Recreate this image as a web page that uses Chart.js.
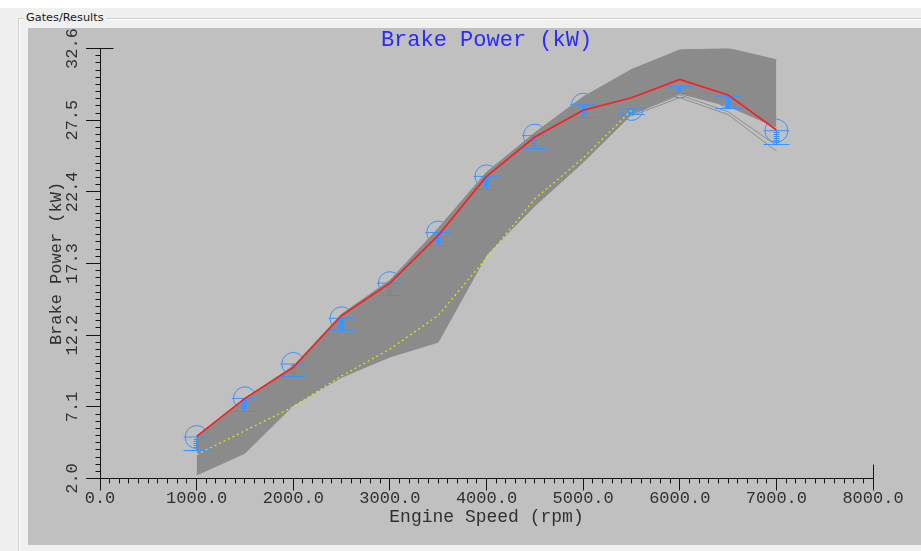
<!DOCTYPE html>
<html><head><meta charset="utf-8">
<script src="https://cdn.jsdelivr.net/npm/chart.js@4.4.1/dist/chart.umd.min.js"></script>
<style>
html,body{margin:0;padding:0;}
body{width:921px;height:551px;position:relative;overflow:hidden;background:#f0f0f0;}
#topstrip{position:absolute;left:0;top:0;width:921px;height:8px;background:#ffffff;}
#frame{position:absolute;left:18px;top:18px;width:920px;height:560px;border-left:1px solid #d0d0d0;border-top:1px solid #d0d0d0;box-shadow:inset 1px 1px 0 #ffffff;}
#cap{position:absolute;left:24px;top:11px;padding:0 2px;background:#f0f0f0;font:11.3px "DejaVu Sans",sans-serif;color:#1a1a1a;line-height:14px;}
#panel{position:absolute;left:28px;top:28px;width:893px;height:517px;background:#c0c0c0;}
#c{position:absolute;left:0;top:0;}
</style></head>
<body>
<div id="topstrip"></div><div id="frame"></div><div id="cap">Gates/Results</div><div id="panel"></div>
<canvas id="c" width="921" height="551"></canvas>
<script>
// ---- data ----
const speeds      = [1000,1500,2000,2500,3000,3500,4000,4500,5000,5500,6000,6500,7000];
const bestRun     = [5.0, 7.7, 9.9, 13.6, 15.9, 19.3, 23.5, 26.3, 28.2, 29.1, 30.4, 29.3, 26.8];
const yellowRun   = [3.7, 5.4, 7.1, 9.3, 11.2, 13.6, 17.7, 21.9, 24.8, 28.2, 29.5, 28.5, 26.3];
const bandTop     = [5.0, 7.7, 10.0, 13.7, 16.1, 19.8, 23.8, 26.6, 29.15, 31.1, 32.5, 32.6, 31.8];
const bandBottom  = [2.25, 3.8, 7.2, 9.2, 10.65, 11.7, 17.9, 21.4, 24.5, 27.9, 29.4, 28.5, 27.0];
const lowRunA     = [null, null, null, null, null, null, null, null, null, 27.9, 29.3, 28.1, 25.7];
const lowRunB     = [null, null, null, null, null, null, null, null, null, 27.8, 29.1, 27.9, 25.3];
const targetPower = [4.95, 7.7, 10.15, 13.4, 15.9, 19.5, 23.5, 26.4, 28.6, 28.3, 29.9, 29.2, 26.75];
const targetErr   = [0.95, 0.9, 0.9, 0.9, 0.9, 0.9, 0.9, 0.9, 0.9, 0.4, 0.5, 0.85, 0.95];
const xTickValues = [0,1000,2000,3000,4000,5000,6000,7000,8000];
const yTickValues = [2.0,7.1,12.2,17.3,22.4,27.5,32.6];
const yellowHiddenFrom = 5500; // yellow run is covered by the grey runs beyond this speed
const xMinorStep = 100, yMinorStep = 0.51;

// ---- styles ----
const axisColor = '#141414';
const textColor = '#303030';
const markerBlue = '#3a92ff';
const bandGray = '#8b8b8b';
const yellowColor = '#e8e800';

const pts = arr => speeds.map((x, i) => ({x, y: arr[i]}));

Chart.defaults.font.family = "'Liberation Mono', 'DejaVu Sans Mono', monospace";

const alignPx = p => Math.round(p - 0.5) + 0.5;

const errorBars = {
  id: 'errorBars',
  beforeDatasetDraw(chart, args) {
    if (args.index !== 2) return;
    const {ctx, scales: {x, y}} = chart;
    ctx.save();
    ctx.strokeStyle = markerBlue;
    ctx.lineWidth = 1;
    ctx.beginPath();
    speeds.forEach((s, i) => {
      const px = alignPx(x.getPixelForValue(s));
      const pc = alignPx(y.getPixelForValue(targetPower[i]));
      const pb = alignPx(y.getPixelForValue(targetPower[i] - targetErr[i]));
      ctx.moveTo(px, pc); ctx.lineTo(px, pb);
      ctx.moveTo(px - 13, pb); ctx.lineTo(px + 13, pb);
      for (let yy = pc + 2; yy < pb - 1; yy += 2) { ctx.moveTo(px - 3, yy); ctx.lineTo(px + 3, yy); }
    });
    ctx.stroke();
    ctx.restore();
  }
};

const axisExtras = {
  id: 'axisExtras',
  afterDraw(chart) {
    const {ctx, scales: {x, y}} = chart;
    const ax = alignPx(chart.chartArea.left);
    const ay = alignPx(chart.chartArea.bottom);
    ctx.save();
    ctx.strokeStyle = axisColor;
    ctx.lineWidth = 1;
    ctx.beginPath();
    const xMin = xTickValues[0], xMax = xTickValues[xTickValues.length - 1];
    const nx = Math.round((xMax - xMin) / xMinorStep);
    for (let k = 1; k < nx; k++) {
      if (k % 10 === 0) continue;
      const px = alignPx(x.getPixelForValue(xMin + k * xMinorStep));
      ctx.moveTo(px, ay); ctx.lineTo(px, ay + 5);
    }
    const yMin = yTickValues[0], yMax = yTickValues[yTickValues.length - 1];
    const ny = Math.round((yMax - yMin) / yMinorStep);
    for (let k = 1; k < ny; k++) {
      if (k % 10 === 0) continue;
      const py = alignPx(y.getPixelForValue(yMin + k * yMinorStep));
      ctx.moveTo(ax - 5, py); ctx.lineTo(ax, py);
    }
    const ty = alignPx(y.getPixelForValue(yMax));
    ctx.moveTo(ax, ty); ctx.lineTo(ax + 13, ty);
    const rx = alignPx(x.getPixelForValue(xMax));
    ctx.moveTo(rx, ay); ctx.lineTo(rx, ay - 14);
    ctx.stroke();
    ctx.restore();
  }
};

const lineDs = (data, color, width, extra) => Object.assign({
  type: 'line', data: pts(data), borderColor: color, backgroundColor: color,
  borderWidth: width, pointRadius: 0, tension: 0, fill: false, spanGaps: false
}, extra || {});

new Chart(document.getElementById('c'), {
  type: 'line',
  data: {
    datasets: [
      lineDs(bestRun, '#ff1c1c', 1.6),
      lineDs(yellowRun, yellowColor, 1.2, {borderDash: [2, 3],
        segment: {borderColor: c => c.p0.parsed.x >= yellowHiddenFrom ? 'rgba(0,0,0,0)' : yellowColor}}),
      {type: 'scatter', data: pts(targetPower), showLine: false, pointStyle: 'line', pointRadius: 13,
       borderColor: markerBlue, pointBorderColor: markerBlue, pointBorderWidth: 1, backgroundColor: markerBlue},
      lineDs(lowRunA, '#8e8e8e', 1),
      lineDs(lowRunB, '#8e8e8e', 1),
      lineDs(bandBottom, bandGray, 1),
      lineDs(bandTop, bandGray, 1, {fill: '-1', backgroundColor: bandGray}),
      {type: 'scatter', data: pts(targetPower), showLine: false, pointStyle: 'circle', pointRadius: 11.5,
       pointBorderColor: markerBlue, pointBorderWidth: 1, pointBackgroundColor: 'rgba(0,0,0,0)',
       borderColor: markerBlue, backgroundColor: 'rgba(0,0,0,0)'}
    ]
  },
  options: {
    responsive: false,
    animation: false,
    events: [],
    layout: {padding: {left: 0, right: 48, top: 0, bottom: 0}},
    plugins: {
      legend: {display: false},
      tooltip: {enabled: false},
      title: {
        display: true, text: 'Brake Power (kW)', color: '#2a2aff', fullSize: false,
        font: {size: 22, weight: 'normal', lineHeight: 0.75},
        padding: {top: 32, bottom: 0}
      }
    },
    scales: {
      x: {
        type: 'linear', min: 0, max: 8000,
        afterBuildTicks: s => { s.ticks = xTickValues.map(v => ({value: v})); },
        afterFit: s => { s.height = 72.5; },
        grid: {display: true, drawOnChartArea: false, drawTicks: true, tickLength: 12, color: axisColor, tickColor: axisColor, lineWidth: 1},
        border: {display: true, color: axisColor, width: 1},
        ticks: {font: {size: 17}, color: textColor, padding: -2, maxRotation: 0, minRotation: 0, autoSkip: false,
                callback: v => Number(v).toFixed(1)},
        title: {display: true, text: 'Engine Speed (rpm)', font: {size: 18}, color: textColor, padding: {top: 0, bottom: 22.5}}
      },
      y: {
        type: 'linear', min: 2.0, max: 32.6,
        afterBuildTicks: s => { s.ticks = yTickValues.map(v => ({value: v})); },
        afterFit: s => { s.width = 100; },
        grid: {display: true, drawOnChartArea: false, drawTicks: true, tickLength: 14, color: axisColor, tickColor: axisColor, lineWidth: 1},
        border: {display: true, color: axisColor, width: 1},
        ticks: {font: {size: 17}, color: textColor, padding: -7, minRotation: 90, maxRotation: 90, crossAlign: 'center', autoSkip: false,
                callback: v => Number(v).toFixed(1)},
        title: {display: true, text: 'Brake Power (kW)', font: {size: 17}, color: textColor, padding: {top: 46, bottom: 0}}
      }
    }
  },
  plugins: [errorBars, axisExtras]
});
</script>
</body></html>
